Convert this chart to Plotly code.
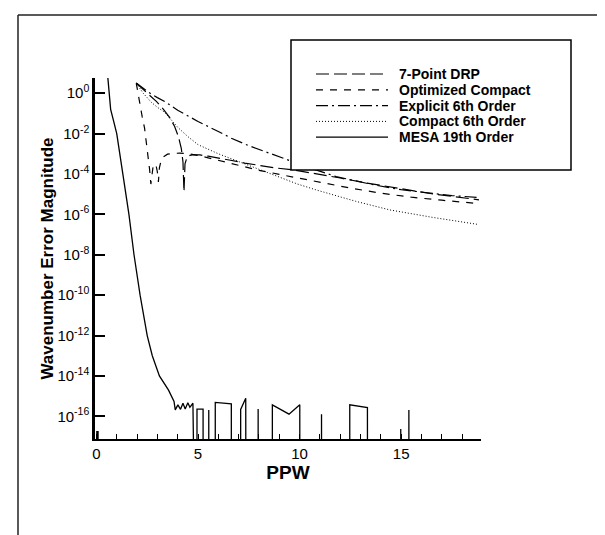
import plotly.graph_objects as go

# ---------------- data (y given as log10 of error) -------------
drp_x = [1.96, 2.3, 2.6, 2.95, 3.3, 3.6, 3.85, 4.05, 4.18, 4.26, 4.31, 4.36, 4.45, 4.6, 4.8, 5.1,
         5.5, 6.0, 6.6, 7.3, 8.0, 8.8, 9.7, 10.8, 12.0, 13.3, 14.85, 16.5, 18.83]
drp_ylog = [0.5, 0.18, -0.1, -0.41, -0.8, -1.2, -1.65, -2.2, -2.75, -3.4, -4.87, -3.5, -3.2, -3.08,
            -3.05, -3.06, -3.12, -3.2, -3.32, -3.46, -3.58, -3.7, -3.8, -3.98, -4.2, -4.45, -4.7, -4.98, -5.28]

opt_x = [1.96, 2.05, 2.15, 2.25, 2.37, 2.46, 2.54, 2.62, 2.68, 2.72, 2.78, 2.86, 2.94, 3.0, 3.05,
         3.1, 3.18, 3.3, 3.5, 3.8, 4.1, 4.5, 5.0, 5.5, 6.0, 7.0, 8.0, 9.0, 9.8, 11.0, 12.5, 14.0,
         15.5, 17.0, 18.83]
opt_ylog = [0.5, -0.05, -0.66, -1.15, -1.73, -2.4, -3.2, -3.8, -4.5, -4.2, -3.7, -3.5, -3.6, -3.9,
            -4.4, -3.7, -3.35, -3.15, -3.02, -2.98, -2.97, -3.0, -3.08, -3.2, -3.32, -3.58, -3.82,
            -4.02, -4.18, -4.42, -4.7, -4.95, -5.15, -5.3, -5.47]

exp_x = [1.96, 2.3, 2.7, 3.0, 3.36, 4.0, 5.0, 6.0, 6.64, 7.5, 8.29, 9.0, 9.6, 10.5, 11.8, 12.8,
         13.7, 15.0, 16.55, 17.5, 18.83]
exp_ylog = [0.5, 0.25, -0.05, -0.22, -0.41, -0.85, -1.4, -1.9, -2.23, -2.6, -2.89, -3.15, -3.38,
            -3.7, -4.13, -4.35, -4.55, -4.78, -4.97, -5.07, -5.17]

cmp_x = [1.96, 2.3, 2.7, 3.0, 3.36, 3.7, 4.0, 4.5, 5.0, 6.0, 7.05, 8.0, 8.95, 9.9, 10.85, 12.0,
         12.75, 14.44, 16.55, 18.8]
cmp_ylog = [0.5, 0.0, -0.45, -0.7, -0.95, -1.35, -1.69, -2.15, -2.55, -3.0, -3.4, -3.75, -4.1,
            -4.5, -4.8, -5.15, -5.35, -5.78, -6.15, -6.5]

BOTTOM = -30.0  # exact zero -> falls below the axis
mesa_x = [0.02, 0.02, 0.08, 0.08, None,
          0.55, 0.7, 0.85, 1.0, 1.3, 1.6, 1.85, 2.15, 2.5, 2.75, 3.1, 3.55, 3.82,
          3.88, 4.01, 4.14, 4.26, 4.37, 4.5, 4.6, 4.75, 4.76,
          4.95, 4.95, 5.25, 5.26, 5.53, 5.53, 5.54, 5.85, 5.85, 6.64, 6.65,
          7.10, 7.10, 7.35, 7.37, 7.96, 7.96, 7.97, 8.66, 8.66, 9.48, 10.01, 10.02,
          11.08, 11.08, 11.09, 12.47, 12.47, 13.34, 13.35, 14.98, 14.98, 14.99,
          15.38, 15.38, 15.39, 18.9]
mesa_ylog = [BOTTOM, -16.75, -16.75, BOTTOM, None,
             0.9, -0.8, -1.4, -2.0, -4.0, -6.0, -8.0, -10.0, -12.0, -13.0, -14.0, -14.7, -15.26,
             -15.68, -15.43, -15.65, -15.35, -15.63, -15.33, -15.55, -15.35, BOTTOM,
             BOTTOM, -15.64, -15.64, BOTTOM, BOTTOM, -15.68, BOTTOM, BOTTOM, -15.31, -15.38, BOTTOM,
             BOTTOM, -15.66, -15.1, BOTTOM, BOTTOM, -15.63, BOTTOM, BOTTOM, -15.43, -15.89, -15.43, BOTTOM,
             BOTTOM, -15.89, BOTTOM, BOTTOM, -15.43, -15.56, BOTTOM, BOTTOM, -16.63, BOTTOM,
             BOTTOM, -15.68, BOTTOM, BOTTOM]

names = ["7-Point DRP", "Optimized Compact", "Explicit 6th Order", "Compact 6th Order", "MESA 19th Order"]
y_tick_exp = [0, -2, -4, -6, -8, -10, -12, -14, -16]
x_tick_vals = [0, 5, 10, 15]


def tolin(vals):
    return [None if v is None else 10.0 ** v for v in vals]


W, H = 605, 535
ML, MR, MT, MB = 87, 132, 70, 104
PW, PH = W - ML - MR, H - MT - MB


def px(xp):
    return (xp - ML) / PW


def py(yp):
    return (H - MB - yp) / PH


FONT = "Liberation Sans, Arial, Helvetica, sans-serif"

styles = [
    dict(dash="13px,5px", width=1.2),
    dict(dash="7px,7px", width=1.2),
    dict(dash="12px,4px,2px,4px", width=1.2),
    dict(dash="1px,2px", width=1.0),
    dict(dash="solid", width=1.3),
]

fig = go.Figure()
series = [(drp_x, drp_ylog), (opt_x, opt_ylog), (exp_x, exp_ylog), (cmp_x, cmp_ylog), (mesa_x, mesa_ylog)]
for (xs, ys), nm, st in zip(series, names, styles):
    fig.add_trace(go.Scatter(
        x=xs, y=tolin(ys), mode="lines", connectgaps=False, name=nm, showlegend=False,
        line=dict(color="black", width=st["width"], dash=st["dash"])))

# outer frame + opaque legend box
shapes = [
    dict(type="line", xref="paper", yref="paper", x0=px(10), x1=px(612), y0=py(7), y1=py(7),
         line=dict(color="#222", width=1.5)),
    dict(type="line", xref="paper", yref="paper", x0=px(10), x1=px(10), y0=py(7), y1=py(540),
         line=dict(color="#222", width=1.5)),
    dict(type="line", xref="paper", yref="paper", x0=px(10), x1=px(612), y0=py(533), y1=py(533),
         line=dict(color="#222", width=1.5)),
    dict(type="rect", xref="paper", yref="paper", x0=px(283), x1=px(563), y0=py(162), y1=py(32),
         line=dict(color="black", width=1.5), fillcolor="white", layer="above"),
]
annotations = []
ROW0, ROWSTEP = 66.0, 15.8
for i, (nm, st) in enumerate(zip(names, styles)):
    yc = ROW0 + i * ROWSTEP
    shapes.append(dict(type="line", xref="paper", yref="paper", x0=px(308), x1=px(380),
                       y0=py(yc), y1=py(yc), layer="above",
                       line=dict(color="black", width=st["width"], dash=st["dash"])))
    annotations.append(dict(xref="paper", yref="paper", x=px(389), y=py(yc), xanchor="left",
                            yanchor="middle", showarrow=False, text="<b>%s</b>" % nm,
                            font=dict(family=FONT, size=14, color="black")))

fig.update_layout(
    width=W, height=H,
    margin=dict(l=ML, r=MR, t=MT, b=MB),
    paper_bgcolor="white", plot_bgcolor="white",
    font=dict(family=FONT, color="black", size=13),
    showlegend=False,
    shapes=shapes,
    annotations=annotations,
)
fig.update_xaxes(range=[-0.07, 18.93], showgrid=False, zeroline=False,
                 showline=True, linecolor="black", linewidth=2, mirror=False,
                 ticks="inside", ticklen=5, tickwidth=1, tickcolor="black",
                 tickvals=x_tick_vals, ticktext=[str(v) for v in x_tick_vals],
                 minor=dict(dtick=1, ticks="inside", ticklen=5, tickwidth=1, tickcolor="black"),
                 tickfont=dict(family=FONT, size=15),
                 title=dict(text="<b>PPW</b>", font=dict(family=FONT, size=19), standoff=2))
fig.update_yaxes(type="log", range=[-17.12, 0.75], showgrid=False, zeroline=False,
                 showline=True, linecolor="black", linewidth=2.5, mirror=False,
                 ticks="inside", ticklen=10, tickwidth=1.5, tickcolor="black",
                 tickvals=[10.0 ** e for e in y_tick_exp],
                 ticktext=["10<sup>%d</sup>" % e for e in y_tick_exp],
                 tickfont=dict(family=FONT, size=15),
                 title=dict(text="<b>Wavenumber Error Magnitude</b>", font=dict(family=FONT, size=17), standoff=0))

fig.write_html("out.html")
